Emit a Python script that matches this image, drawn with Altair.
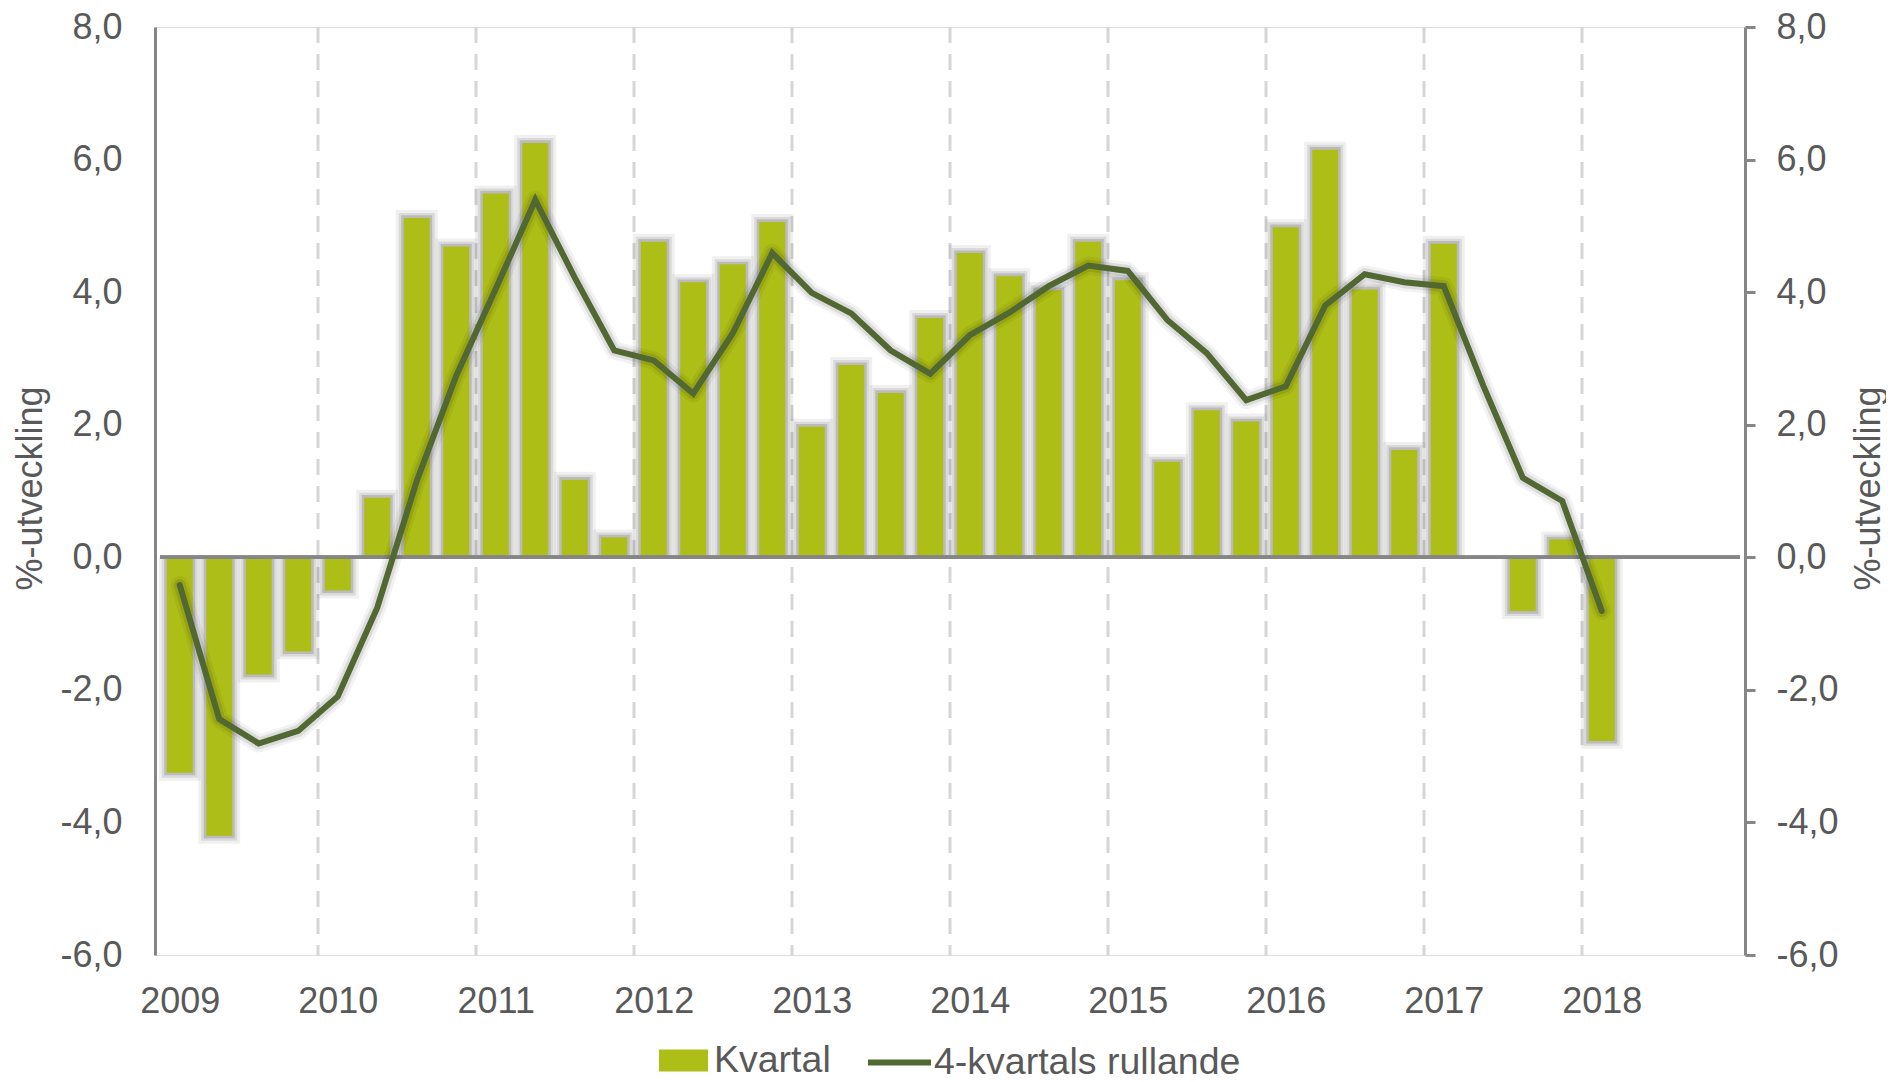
import altair as alt
import pandas as pd

# ---- data ----
quarters = [
    "2009Q1", "2009Q2", "2009Q3", "2009Q4",
    "2010Q1", "2010Q2", "2010Q3", "2010Q4",
    "2011Q1", "2011Q2", "2011Q3", "2011Q4",
    "2012Q1", "2012Q2", "2012Q3", "2012Q4",
    "2013Q1", "2013Q2", "2013Q3", "2013Q4",
    "2014Q1", "2014Q2", "2014Q3", "2014Q4",
    "2015Q1", "2015Q2", "2015Q3", "2015Q4",
    "2016Q1", "2016Q2", "2016Q3", "2016Q4",
    "2017Q1", "2017Q2", "2017Q3", "2017Q4",
    "2018Q1",
]
kvartal = [
    -3.25, -4.20, -1.77, -1.42,
    -0.50, 0.90, 5.12, 4.69,
    5.49, 6.25, 1.17, 0.30,
    4.76, 4.15, 4.42, 5.06,
    1.97, 2.90, 2.48, 3.61,
    4.59, 4.24, 4.03, 4.76,
    4.18, 1.44, 2.22, 2.05,
    4.98, 6.15, 4.04, 1.62,
    4.73, 0.00, -0.81, 0.27,
    -2.77,
]
rullande = [
    -0.42, -2.44, -2.81, -2.62,
    -2.10, -0.76, 1.15, 2.74,
    4.05, 5.39, 4.22, 3.12,
    2.97, 2.47, 3.38, 4.59,
    3.99, 3.68, 3.12, 2.77,
    3.35, 3.69, 4.09, 4.40,
    4.32, 3.58, 3.08, 2.37,
    2.58, 3.80, 4.27, 4.15,
    4.09, 2.59, 1.20, 0.85,
    -0.81,
]
years = [2009, 2010, 2011, 2012, 2013, 2014, 2015, 2016, 2017, 2018]
y_ticks = [-6, -4, -2, 0, 2, 4, 6, 8]
series_names = ["Kvartal", "4-kvartals rullande"]
axis_title = "%-utveckling"

# ---- styling ----
BAR = "#adbe17"
LINE = "#526832"
TXT = "#595959"
AXC = "#868686"
GRID = "#d6d6d6"
FONT = "Liberation Sans"
FS = 36
LFS = 37.5
W, H = 1590, 928
NQ = 40  # quarters on the x range (2009Q1 .. 2018Q4)

df = pd.DataFrame({
    "quarter": quarters,
    "pos": [i + 0.5 for i in range(len(quarters))],
    "kvartal": kvartal,
    "rullande": rullande,
    "s1": series_names[0],
    "s2": series_names[1],
})
grid_df = pd.DataFrame({"pos": [(y - years[0]) * 4 for y in years[1:]]})
label_pos = [(y - years[0]) * 4 + 0.5 for y in years]

xscale = alt.Scale(domain=[0, NQ], nice=False, zero=False)
yscale = alt.Scale(domain=[y_ticks[0], y_ticks[-1]], nice=False, zero=False)

x_axis = alt.Axis(
    values=label_pos,
    labelExpr=f"toString({years[0]} + floor(datum.value / 4))",
    domain=False, ticks=False, tickSize=0, grid=False, title=None,
    labelFont=FONT, labelFontSize=FS, labelColor=TXT, labelPadding=29,
    labelFlush=False, labelOverlap=False,
)
X = alt.X("pos:Q", scale=xscale, axis=x_axis)

left_axis = alt.Axis(
    orient="left", values=y_ticks, labelExpr="datum.value + ',0'",
    ticks=False, tickSize=0, grid=False,
    domainColor=AXC, domainWidth=3,
    labelFont=FONT, labelFontSize=FS, labelColor=TXT, labelPadding=33,
    title=axis_title, titleFont=FONT, titleFontSize=FS, titleColor=TXT,
    titleFontWeight="normal", titleAngle=270, titleX=-114, titleY=461,
    titleBaseline="alphabetic",
)
right_axis = alt.Axis(
    orient="right", values=y_ticks, labelExpr="datum.value + ',0'",
    ticks=True, tickSize=10, tickWidth=3, tickColor=AXC, grid=False,
    domainColor=AXC, domainWidth=3,
    labelFont=FONT, labelFontSize=FS, labelColor=TXT, labelPadding=21,
    title=axis_title, titleFont=FONT, titleFontSize=FS, titleColor=TXT,
    titleFontWeight="normal", titleAngle=270, titleX=134, titleY=461,
    titleBaseline="alphabetic",
)

grid = alt.Chart(grid_df).mark_rule(
    color=GRID, strokeWidth=3, strokeDash=[16, 11]
).encode(
    x=X,
    y=alt.Y(datum=y_ticks[-1], scale=yscale, axis=None),
    y2=alt.Y2(datum=y_ticks[0]),
)

base = alt.Chart(df)

shadows = []
for w, op, ext in [(42, 0.06, 0.12), (36, 0.09, 0.075), (31, 0.14, 0.04)]:
    shadows.append(
        base.transform_calculate(
            ext=f"datum.kvartal + (datum.kvartal >= 0 ? {ext} : -{ext})"
        ).transform_filter("datum.kvartal != 0").mark_bar(
            color="black", opacity=op, width=w
        ).encode(
            x=X,
            y=alt.Y("ext:Q", scale=yscale, axis=None),
            y2=alt.Y2(datum=0),
        )
    )

bars = base.mark_bar(width=26).encode(
    x=X,
    y=alt.Y("kvartal:Q", scale=yscale, axis=left_axis),
    y2=alt.Y2(datum=0),
    fill=alt.Fill(
        "s1:N",
        scale=alt.Scale(domain=[series_names[0]], range=[BAR]),
        legend=alt.Legend(
            orient="none", legendX=504, legendY=1009, title=None, padding=0,
            symbolType="M-1,-0.45L1,-0.45L1,0.45L-1,0.45Z", symbolSize=2401,
            symbolStrokeWidth=0, symbolOpacity=1, labelLimit=0,
            labelFont=FONT, labelFontSize=LFS, labelColor=TXT, labelOffset=6,
        ),
    ),
)

zero = alt.Chart(grid_df).mark_rule(color=AXC, strokeWidth=3).encode(
    x=alt.X(datum=0, scale=xscale, axis=x_axis),
    x2=alt.X2(datum=NQ),
    y=alt.Y(datum=0, scale=yscale, axis=None),
)

line_shadows = []
for sw, op in [(18, 0.05), (12, 0.09)]:
    line_shadows.append(
        base.mark_line(color="black", opacity=op, strokeWidth=sw,
                       strokeJoin="round", strokeCap="round").encode(
            x=X, y=alt.Y("rullande:Q", scale=yscale, axis=None)
        )
    )

line = base.mark_line(strokeWidth=6, strokeJoin="miter", strokeCap="round").encode(
    x=X,
    y=alt.Y("rullande:Q", scale=yscale, axis=right_axis),
    stroke=alt.Stroke(
        "s2:N",
        scale=alt.Scale(domain=[series_names[1]], range=[LINE]),
        legend=alt.Legend(
            orient="none", legendX=710, legendY=1001, title=None, padding=0,
            symbolType="stroke", symbolSize=3969, symbolStrokeWidth=6,
            labelLimit=0,
            labelFont=FONT, labelFontSize=LFS, labelColor=TXT, labelOffset=0,
        ),
    ),
)

chart = alt.layer(
    grid, *shadows, bars, zero, *line_shadows, line
).resolve_axis(y="independent").properties(
    width=W, height=H,
    autosize=alt.AutoSizeParams(type="none"),
    padding={"left": 147, "top": 19, "right": 141, "bottom": 119},
).configure_view(strokeWidth=0).configure(background="white")

chart.save("out.html", embed_options={"renderer": "svg", "actions": False})
